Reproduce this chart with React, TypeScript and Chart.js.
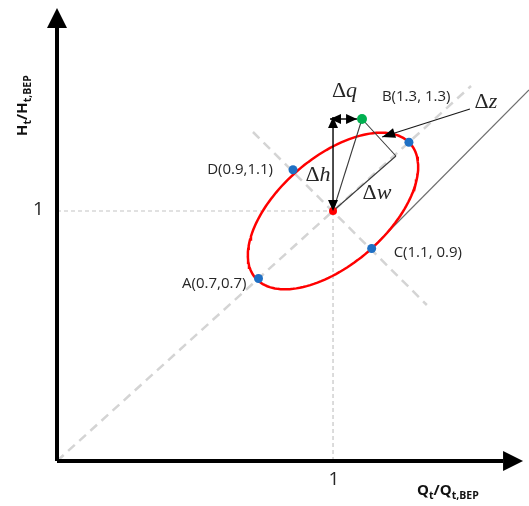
import React, { useEffect, useRef } from 'react';
import { Chart, registerables } from 'chart.js';

Chart.register(...registerables);

// ---- scale ranges ----
const X_MAX = 1.71;
const Y_MAX = 1.844;
const X_AXIS_END = 1.616;
const Y_AXIS_END = 1.732;

// ---- labelled operating points A, D, B, C ----
const pointNames = ['A(0.7,0.7)', 'D(0.9,1.1)', 'B(1.3, 1.3)', 'C(1.1, 0.9)'];
const pointX = [0.73, 0.855, 1.275, 1.14];
const pointY = [0.73, 1.165, 1.275, 0.85];

// ---- other construction points ----
const centerPt = [1, 1];
const greenPt = [1.105, 1.368];
const footPt = [1.228, 1.22];
const dhTop = [1, 1.376];
const dqStart = [0.989, 1.368];
const dqEnd = [1.087, 1.368];
const dzStart = [1.496, 1.408];
const dzEnd = [1.178, 1.296];
const tangentEnd = [1.71, 1.484];
const diagEnd = [1.5, 1.5];
const antiStart = [0.71, 1.316];
const antiEnd = [1.34, 0.624];

const ELLIPSE_STEPS = 144;

const P = (a: number[]) => ({ x: a[0], y: a[1] });

function ellipsePoints() {
  // conjugate semi-axes from center to B and to C
  const ux = pointX[2] - centerPt[0], uy = pointY[2] - centerPt[1];
  const vx = pointX[3] - centerPt[0], vy = pointY[3] - centerPt[1];
  const out: { x: number; y: number }[] = [];
  for (let i = 0; i <= ELLIPSE_STEPS; i++) {
    const t = (i / ELLIPSE_STEPS) * Math.PI * 2;
    out.push({ x: centerPt[0] + ux * Math.cos(t) + vx * Math.sin(t), y: centerPt[1] + uy * Math.cos(t) + vy * Math.sin(t) });
  }
  return out;
}

const TEXT_FONT = '"Open Sans", "Noto Sans", sans-serif';
const MATH_FONT = '"Liberation Serif", "DejaVu Serif", serif';
const TEXT_COLOR = '#262626';

type Lbl = { text: string; sym?: string; at: number[]; dx: number; dy: number; align: CanvasTextAlign; kind: 'text' | 'math' | 'tick' };

const labels: Lbl[] = [
  { text: pointNames[0], at: [pointX[0], pointY[0]], dx: -12, dy: 5, align: 'right', kind: 'text' },
  { text: pointNames[1], at: [pointX[1], pointY[1]], dx: -20, dy: 0, align: 'right', kind: 'text' },
  { text: pointNames[2], at: [pointX[2], pointY[2]], dx: -27, dy: -46, align: 'left', kind: 'text' },
  { text: pointNames[3], at: [pointX[3], pointY[3]], dx: 22, dy: 4, align: 'left', kind: 'text' },
  { text: '1', at: [centerPt[0], 0], dx: 1, dy: 19, align: 'center', kind: 'tick' },
  { text: '1', at: [0, centerPt[1]], dx: -18.5, dy: -1, align: 'center', kind: 'tick' },
  { text: 'q', sym: 'Δ', at: [(dqStart[0] + dqEnd[0]) / 2, dqStart[1]], dx: 1, dy: -28, align: 'center', kind: 'math' },
  { text: 'h', sym: 'Δ', at: [centerPt[0], (centerPt[1] + dhTop[1]) / 2], dx: -15, dy: 11, align: 'center', kind: 'math' },
  { text: 'w', sym: 'Δ', at: centerPt, dx: 44, dy: -18, align: 'center', kind: 'math' },
  { text: 'z', sym: 'Δ', at: dzStart, dx: 16, dy: -7, align: 'center', kind: 'math' },
];

const arrowPlugin = {
  id: 'arrowHeads',
  afterDatasetsDraw(chart: any) {
    const ctx = chart.ctx as CanvasRenderingContext2D;
    chart.data.datasets.forEach((ds: any, i: number) => {
      const a = ds.arrow;
      if (!a) return;
      const pts = chart.getDatasetMeta(i).data;
      if (pts.length < 2) return;
      const draw = (tipEl: any, fromEl: any) => {
        let dx = tipEl.x - fromEl.x, dy = tipEl.y - fromEl.y;
        const l = Math.hypot(dx, dy) || 1;
        dx /= l; dy /= l;
        let tx = tipEl.x, ty = tipEl.y;
        if (a.extend) { tx += dx * a.len; ty += dy * a.len; }
        const bx = tx - dx * a.len, by = ty - dy * a.len;
        const px = -dy * a.width / 2, py = dx * a.width / 2;
        ctx.save();
        ctx.fillStyle = a.color || '#000';
        ctx.beginPath();
        ctx.moveTo(tx, ty);
        ctx.lineTo(bx + px, by + py);
        ctx.lineTo(bx - px, by - py);
        ctx.closePath();
        ctx.fill();
        ctx.restore();
      };
      const n = pts.length;
      if (a.end) draw(pts[n - 1], pts[n - 2]);
      if (a.start) draw(pts[0], pts[1]);
    });
  },
};

function drawSubText(ctx: CanvasRenderingContext2D, parts: [string, boolean][], x: number, y: number) {
  let cx = x;
  for (const [t, sub] of parts) {
    ctx.font = sub ? `bold 10.5px ${TEXT_FONT}` : `bold 15px ${TEXT_FONT}`;
    ctx.fillText(t, cx, sub ? y + 4 : y);
    cx += ctx.measureText(t).width;
  }
}

const labelPlugin = {
  id: 'labelsPlugin',
  afterDraw(chart: any) {
    const ctx = chart.ctx as CanvasRenderingContext2D;
    const xs = chart.scales.x, ys = chart.scales.y;
    ctx.save();
    ctx.fillStyle = TEXT_COLOR;
    ctx.textBaseline = 'middle';
    for (const l of labels) {
      const x = xs.getPixelForValue(l.at[0]) + l.dx;
      const y = ys.getPixelForValue(l.at[1]) + l.dy;
      if (l.kind === 'text' || l.kind === 'tick') {
        ctx.font = l.kind === 'tick' ? `19px ${TEXT_FONT}` : `15px ${TEXT_FONT}`;
        ctx.textAlign = l.align;
        ctx.fillText(l.text, x, y);
      } else {
        ctx.font = `22px ${MATH_FONT}`;
        const w1 = ctx.measureText(l.sym || '').width;
        ctx.font = `italic 22px ${MATH_FONT}`;
        const w2 = ctx.measureText(l.text).width;
        const start = x - (w1 + w2) / 2;
        ctx.textAlign = 'left';
        ctx.font = `22px ${MATH_FONT}`;
        ctx.fillText(l.sym || '', start, y);
        ctx.font = `italic 22px ${MATH_FONT}`;
        ctx.fillText(l.text, start + w1, y);
      }
    }
    // axis titles
    ctx.textBaseline = 'alphabetic';
    ctx.textAlign = 'left';
    ctx.fillStyle = '#111';
    const xt = xs.getPixelForValue(X_AXIS_END) - 86;
    const yt = ys.getPixelForValue(0) + 34;
    drawSubText(ctx, [['Q', false], ['t', true], ['/Q', false], ['t,BEP', true]], xt, yt);
    ctx.save();
    ctx.translate(xs.getPixelForValue(0) - 30, ys.getPixelForValue(Y_AXIS_END) + 108);
    ctx.rotate(-Math.PI / 2);
    drawSubText(ctx, [['H', false], ['t', true], ['/H', false], ['t,BEP', true]], 0, 0);
    ctx.restore();
    ctx.restore();
  },
};

function line(data: { x: number; y: number }[], color: string, width: number, extra: any = {}) {
  return { data, showLine: true, borderColor: color, borderWidth: width, pointRadius: 0, pointHoverRadius: 0, clip: false, tension: 0, ...extra };
}

export default function App() {
  const ref = useRef<HTMLCanvasElement>(null);
  useEffect(() => {
    if (!ref.current) return;
    const small = { len: 11, width: 10, color: '#000' };
    const axisArrow = { len: 20, width: 20, color: '#000', extend: true, end: true };
    const datasets: any[] = [
      // points on top
      { data: [P(centerPt)], pointRadius: 4, pointBackgroundColor: '#ff0000', pointBorderWidth: 0, clip: false },
      { data: [P(greenPt)], pointRadius: 5, pointBackgroundColor: '#00b050', pointBorderWidth: 0, clip: false },
      { data: pointX.map((x, i) => ({ x, y: pointY[i] })), pointRadius: 4.5, pointBackgroundColor: '#1f70c4', pointBorderWidth: 0, clip: false },
      // arrows
      line([P(centerPt), P(dhTop)], '#000', 1.4, { arrow: { ...small, start: true, end: true } }),
      line([P(dqStart), P(dqEnd)], '#000', 1.4, { arrow: { ...small, start: true, end: true } }),
      line([P(dzStart), P(dzEnd)], '#1a1a1a', 1.2, { arrow: { len: 13, width: 10, color: '#000', end: true } }),
      // construction lines
      line([P(centerPt), P(greenPt)], '#3a3a3a', 1.1),
      line([P(centerPt), P(footPt)], '#3a3a3a', 1.1),
      line([P(footPt), P(greenPt)], '#3a3a3a', 1.1),
      // ellipse
      line(ellipsePoints(), '#ff0000', 2.5),
      // tangent line
      line([{ x: pointX[3], y: pointY[3] }, P(tangentEnd)], '#6e6e6e', 1.2),
      // axes
      line([{ x: 0, y: 0 }, { x: X_AXIS_END, y: 0 }], '#000', 4, { arrow: axisArrow }),
      line([{ x: 0, y: 0 }, { x: 0, y: Y_AXIS_END }], '#000', 4, { arrow: axisArrow }),
      // dashed guides
      line([{ x: 0, y: 0 }, P(diagEnd)], '#d4d4d4', 2.5, { borderDash: [9, 6] }),
      line([P(antiStart), P(antiEnd)], '#d4d4d4', 2.5, { borderDash: [9, 6] }),
      line([{ x: 0, y: centerPt[1] }, P(centerPt)], '#c4c4c4', 1.2, { borderDash: [4, 3] }),
      line([{ x: centerPt[0], y: 0 }, P(centerPt)], '#c4c4c4', 1.2, { borderDash: [4, 3] }),
    ];
    const chart = new Chart(ref.current, {
      type: 'scatter',
      data: { datasets },
      options: {
        animation: false,
        responsive: false,
        devicePixelRatio: 1,
        layout: { autoPadding: false, padding: { left: 57, right: 0, top: 0, bottom: 45 } },
        scales: {
          x: { type: 'linear', min: 0, max: X_MAX, display: false },
          y: { type: 'linear', min: 0, max: Y_MAX, display: false },
        },
        plugins: { legend: { display: false }, tooltip: { enabled: false } },
        events: [],
      },
      plugins: [arrowPlugin, labelPlugin],
    });
    return () => chart.destroy();
  }, []);
  return (
    <div style={{ position: 'absolute', left: 0, top: 0, width: 529, height: 506, background: '#fff' }}>
      <canvas ref={ref} width={529} height={506} style={{ display: 'block' }} />
    </div>
  );
}
